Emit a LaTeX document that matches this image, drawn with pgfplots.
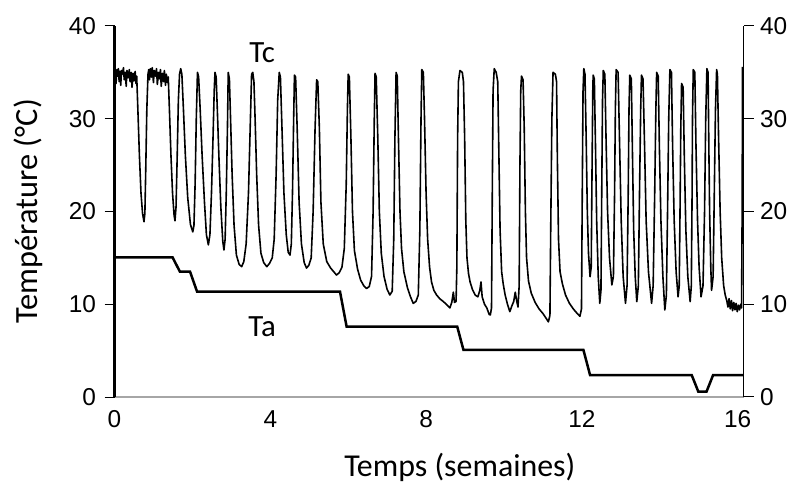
\documentclass[border=0pt]{standalone}
\usepackage{pgfplots}
\pgfplotsset{compat=1.18}
\usepackage{fontspec}
\setmainfont{Carlito}
\newfontfamily\ticksf{Liberation Sans}
\begin{document}
\begin{tikzpicture}
\useasboundingbox (0,0) rectangle (801bp,490bp);
\begin{axis}[
  at={(114.5bp,93bp)}, anchor=south west,
  scale only axis, width=629bp, height=371bp,
  xmin=0, xmax=16.15, ymin=0, ymax=40,
  axis line style={draw=none},
  xtick={0,4,8,12,16}, ytick={0,10,20,30,40},
  tick align=outside, major tick length=10bp,
  xtick pos=bottom, ytick pos=left,
  ytick style={black, line width=1bp},
  xtick style={draw=none},
  tick label style={font=\ticksf\fontsize{24.5}{24.5}\selectfont},
  yticklabel style={xshift=-5bp},
  /pgf/number format/assume math mode=true,
  clip=false,
]
\draw[gray!70, line width=1.5bp] (rel axis cs:0,0) -- (rel axis cs:1,0);
\draw[black, line width=2.5bp] (rel axis cs:0,0) -- (rel axis cs:0,1);
\draw[black, line width=1.5bp] (rel axis cs:1,0) -- (rel axis cs:1,1);
% Ta
\addplot[black, line width=2.5bp] coordinates {
(0,15.06)(1.49,15.06)(1.68,13.51)(1.94,13.51)(2.12,11.36)(5.79,11.36)(5.96,7.58)(8.80,7.58)(8.96,5.07)(12.04,5.07)(12.21,2.37)(14.82,2.37)(14.99,0.57)(15.20,0.57)(15.37,2.37)(16.15,2.37)
};
% Tc
\addplot[black, line width=1.6bp, line join=round] coordinates {
(0,34.5)(0.02,35.2)(0.04,33.8)(0.06,35.3)(0.08,34.6)(0.10,35.4)(0.12,34.0)(0.14,35.1)(0.16,33.6)(0.18,35.2)(0.20,34.8)(0.23,35.5)(0.25,34.2)(0.28,35.0)(0.30,33.5)(0.32,35.2)(0.35,34.4)(0.38,35.3)(0.40,34.0)(0.43,35.0)(0.45,33.4)(0.48,34.9)(0.50,34.1)(0.53,35.1)(0.55,33.8)(0.57,34.6)
(0.60,31)(0.64,26)(0.68,22)(0.72,19.8)(0.757,18.9)(0.78,19.8)(0.80,24)(0.83,31)(0.86,34.8)
(0.88,35.3)(0.90,34.2)(0.92,35.4)(0.95,34.5)(0.97,35.5)(1.00,33.9)(1.02,35.2)(1.05,34.6)(1.08,35.4)(1.10,33.7)(1.13,35.0)(1.15,34.3)(1.18,35.3)(1.20,33.5)(1.23,34.9)(1.26,34.0)(1.28,35.2)(1.31,33.6)(1.33,34.8)(1.36,33.9)(1.38,34.5)
(1.41,31)(1.45,26)(1.49,22)(1.53,19.6)(1.553,19)(1.58,20.5)(1.61,26)(1.64,32)(1.67,34.8)(1.70,35.4)(1.73,34.8)
(1.77,31)(1.82,26)(1.88,21.5)(1.95,18.6)(2.01,17.8)(2.04,18.5)(2.07,23)(2.10,30)(2.13,35)(2.16,34.5)
(2.20,31)(2.25,26)(2.31,21)(2.36,17.5)(2.41,16.4)(2.45,17.5)(2.49,22)(2.53,28)(2.56,33)(2.58,35)(2.61,34.5)
(2.64,31)(2.68,26)(2.73,20.5)(2.78,16.8)(2.81,15.85)(2.84,17)(2.87,22)(2.90,29)(2.92,35)(2.95,34.3)
(2.98,30)(3.02,24)(3.07,18.5)(3.13,15.3)(3.20,14.3)(3.265,14.05)(3.32,14.6)(3.38,16.5)(3.44,22)(3.49,30)(3.52,34.8)(3.55,35)(3.58,34)
(3.61,30)(3.65,24)(3.70,18.5)(3.76,15.5)(3.83,14.5)(3.91,14.05)(3.98,14.4)(4.05,15)(4.10,17)(4.15,24)(4.19,32)(4.23,35)(4.26,34.5)
(4.30,29)(4.35,22)(4.41,17.5)(4.46,15.6)(4.506,15.3)(4.54,16.5)(4.57,22)(4.60,30)(4.62,34.7)(4.65,34.5)
(4.69,29)(4.74,21)(4.80,16.5)(4.87,14.5)(4.93,13.9)(4.99,14.2)(5.05,15)(5.10,20)(5.15,29)(5.19,34.2)(5.22,34)
(5.26,29)(5.30,21)(5.36,16.5)(5.45,14.6)(5.55,13.9)(5.65,13.4)(5.70,13.15)(5.77,13.4)(5.84,14)(5.90,16)(5.95,23)(5.98,31)(6.00,34.8)(6.03,34.5)
(6.07,28)(6.11,20)(6.16,15.8)(6.24,13.8)(6.32,12.6)(6.40,12)(6.47,11.7)(6.54,11.9)(6.60,13)(6.64,20)(6.67,30)(6.69,34.9)(6.72,34.5)
(6.76,28)(6.80,20)(6.85,15.5)(6.92,13)(7.00,11.6)(7.07,11)(7.13,11.4)(7.17,17)(7.20,28)(7.23,35)(7.26,34.6)
(7.29,28)(7.33,20)(7.37,16)(7.43,13.5)(7.52,11.8)(7.60,10.8)(7.67,10.1)(7.74,10.3)(7.80,11)(7.84,18)(7.87,30)(7.89,35.3)(7.93,35)
(7.96,30)(8.00,22)(8.04,17)(8.09,14)(8.14,12.4)(8.20,11.5)(8.27,11)(8.35,10.6)(8.44,10.3)(8.52,10)(8.61,9.6)(8.66,10.2)(8.70,11.3)(8.73,10.2)(8.77,10.3)(8.79,14)(8.81,28)(8.83,34)(8.87,35.2)(8.93,35)(8.96,34)
(8.99,28)(9.02,19)(9.05,15)(9.09,13.3)(9.13,12.4)(9.19,11.6)(9.26,11)(9.33,10.8)(9.38,11.5)(9.41,12.4)(9.44,10.8)(9.50,10)(9.56,9.6)(9.62,8.9)(9.65,8.84)(9.68,9.6)(9.70,22)(9.72,33)(9.75,35.4)(9.80,35)(9.84,34)
(9.87,26)(9.90,18)(9.94,13.5)(9.98,12.2)(10.03,11)(10.09,10)(10.15,9.2)(10.20,9.8)(10.25,10.3)(10.29,11.3)(10.32,10.5)(10.36,9.7)(10.39,12)(10.41,25)(10.43,33)(10.45,34.6)(10.49,34.2)
(10.52,29)(10.55,20)(10.58,15)(10.63,12.5)(10.70,11.2)(10.80,10.2)(10.90,9.5)(11.00,9)(11.08,8.5)(11.14,8.1)(11.18,8.8)(11.20,18)(11.23,30)(11.26,35)(11.32,34.8)(11.35,34)
(11.37,26)(11.40,17)(11.44,13.5)(11.50,12.2)(11.58,11)(11.68,10.1)(11.78,9.5)(11.88,9)(11.95,8.7)(11.99,9.5)(12.01,22)(12.03,33)(12.05,35.4)(12.08,34.8)
(12.11,28)(12.14,20)(12.17,15.5)(12.21,12.97)(12.24,14)(12.26,24)(12.28,33)(12.29,34.7)(12.32,34.3)
(12.35,27)(12.38,19)(12.42,13)(12.46,10.1)(12.49,11.5)(12.51,22)(12.53,32)(12.55,35.2)(12.59,34.8)
(12.62,28)(12.66,20)(12.71,15)(12.77,12.08)(12.81,13)(12.84,22)(12.86,31)(12.88,35.3)(12.93,35)
(12.97,27)(13.01,19)(13.06,13)(13.12,10.1)(13.16,12)(13.19,22)(13.21,31)(13.23,34.7)(13.27,34.3)
(13.30,26)(13.33,18)(13.37,13)(13.41,10.28)(13.45,12)(13.48,22)(13.51,31)(13.53,34.7)(13.57,34.3)
(13.61,27)(13.65,19)(13.71,13.5)(13.79,10.1)(13.83,12)(13.87,22)(13.90,31)(13.92,35)(13.96,34.6)
(13.99,27)(14.03,19)(14.08,13)(14.13,9.38)(14.17,11)(14.20,20)(14.23,30)(14.26,35.3)(14.30,35)
(14.33,27)(14.37,19)(14.42,13.5)(14.47,10.8)(14.50,12)(14.52,20)(14.54,29)(14.56,33.8)(14.60,33.4)
(14.63,26)(14.67,18)(14.72,13)(14.78,10.28)(14.81,12)(14.83,22)(14.84,30)(14.86,35.3)(14.90,35)
(14.93,27)(14.97,19)(15.01,14)(15.06,10.8)(15.11,12)(15.15,20)(15.18,30)(15.21,35.4)(15.24,35)
(15.26,27)(15.28,20)(15.31,14)(15.33,11.5)(15.37,13)(15.40,22)(15.43,31)(15.46,35.3)(15.48,34.8)
(15.51,28)(15.55,20)(15.59,15)(15.64,12)(15.68,11)(15.72,10.4)(15.75,9.7)(15.78,10.6)(15.81,9.5)(15.84,10.4)(15.87,9.3)(15.90,10.2)(15.93,9.4)(15.96,10.1)(15.99,9.2)(16.02,9.9)(16.05,9.4)(16.08,10)(16.10,9.6)(16.115,20)(16.125,35.6)
};
\node[font=\fontsize{31}{31}\selectfont] at (axis cs:3.79,37.1) {Tc};
\node[font=\fontsize{31}{31}\selectfont] at (axis cs:3.79,7.55) {Ta};
\node[font=\fontsize{32.5}{32.5}\selectfont, rotate=90] at (rel axis cs:-0.1375,0.501) {Température (°C)};
\node[font=\fontsize{32}{32}\selectfont] at (rel axis cs:0.549,-0.189) {Temps (semaines)};
\end{axis}
\begin{axis}[
  at={(114.5bp,93bp)}, anchor=south west,
  scale only axis, width=629bp, height=371bp,
  xmin=0, xmax=16.15, ymin=0, ymax=40,
  axis line style={draw=none},
  xtick=\empty, ytick={0,10,20,30,40},
  tick align=outside, major tick length=10bp,
  ytick pos=right, yticklabel pos=right,
  ytick style={black, line width=1bp},
  tick label style={font=\ticksf\fontsize{24.5}{24.5}\selectfont},
  yticklabel style={xshift=3bp},
  /pgf/number format/assume math mode=true,
]
\end{axis}
\end{tikzpicture}
\end{document}
